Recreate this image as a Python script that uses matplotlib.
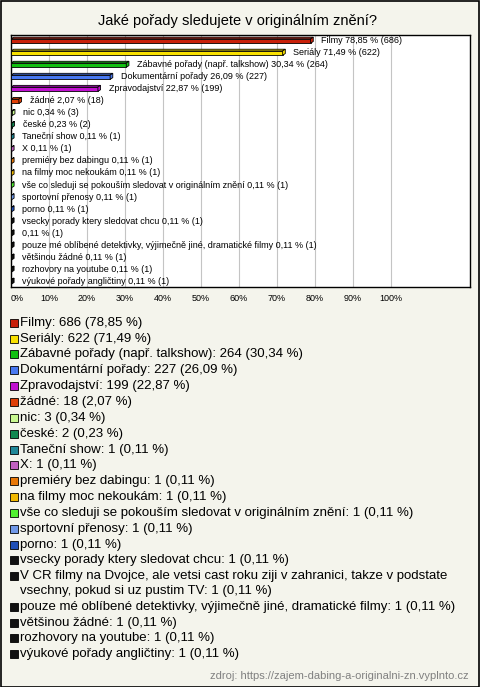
import matplotlib.pyplot as plt
from matplotlib.patches import Polygon, Rectangle

plt.rcParams["font.family"] = ["Liberation Sans", "DejaVu Sans"]

title = "Jaké pořady sledujete v originálním znění?"
source = "zdroj: https://zajem-dabing-a-originalni-zn.vyplnto.cz"

categories = [
    "Filmy",
    "Seriály",
    "Zábavné pořady (např. talkshow)",
    "Dokumentární pořady",
    "Zpravodajství",
    "žádné",
    "nic",
    "české",
    "Taneční show",
    "X",
    "premiéry bez dabingu",
    "na filmy moc nekoukám",
    "vše co sleduji se pokouším sledovat v originálním znění",
    "sportovní přenosy",
    "porno",
    "vsecky porady ktery sledovat chcu",
    "V CR filmy na Dvojce, ale vetsi cast roku ziji v zahranici, takze v podstate\nvsechny, pokud si uz pustim TV",
    "pouze mé oblíbené detektivky, výjimečně jiné, dramatické filmy",
    "většinou žádné",
    "rozhovory na youtube",
    "výukové pořady angličtiny",
]
counts = [686, 622, 264, 227, 199, 18, 3, 2, 1, 1, 1, 1, 1, 1, 1, 1, 1, 1, 1, 1, 1]
percents = [78.85, 71.49, 30.34, 26.09, 22.87, 2.07, 0.34, 0.23, 0.11, 0.11, 0.11,
            0.11, 0.11, 0.11, 0.11, 0.11, 0.11, 0.11, 0.11, 0.11, 0.11]
colors = ["#c8200a", "#f8e000", "#10c010", "#4878f0", "#c010d0", "#e04008",
          "#c8f890", "#108850", "#208898", "#c060c0", "#e87808", "#f0b800",
          "#50f030", "#7098e8", "#2050b8", "#111111", "#111111", "#111111",
          "#111111", "#111111", "#111111"]

W, H = 480, 687
bg = "#f4f4ec"


def fy(px):
    return 1 - px / H


def fmt(p):
    return f"{p:.2f}".replace(".", ",")


fig = plt.figure(figsize=(W / 100, H / 100), dpi=100, facecolor=bg)
fig.patches.append(Rectangle((0.5 / W, 0.5 / H), 1 - 1.5 / W, 1 - 1.5 / H,
                             transform=fig.transFigure, fill=False,
                             edgecolor="black", lw=1.2))

fig.text(0.494, fy(20.5), title, ha="center", va="center", fontsize=10.5)

ax = fig.add_axes([11 / W, fy(287), 459 / W, 252 / H])
ax.set_facecolor("white")
n = len(categories)
ax.set_xlim(0, 120.8)
ax.set_ylim(n - 1 + 0.415, -0.5)
ax.set_xticks(range(0, 101, 10))
ax.set_xticklabels([f"{t}%" for t in range(0, 101, 10)])
ax.tick_params(axis="x", length=0, pad=5, labelsize=6.5)
ax.set_yticks([])
ax.grid(axis="x", color="#c4c4c4", lw=0.8)
ax.set_axisbelow(True)
for s in ax.spines.values():
    s.set_linewidth(1.0)
ax.get_xticklabels()[0].set_horizontalalignment("left")

h = 0.36
dx = 0.7
dy = 0.14
ys = list(range(n))
ax.barh(ys, percents, height=h, color=colors, edgecolor="black", lw=0.6, zorder=3)
for y, v, c, name, cnt in zip(ys, percents, colors, categories, counts):
    top = y - h / 2
    bot = y + h / 2
    ax.add_patch(Polygon([(0, top), (v, top), (v + dx, top - dy), (dx, top - dy)],
                         closed=True, facecolor=c, edgecolor="black", lw=0.6, zorder=3))
    ax.add_patch(Polygon([(v, top), (v + dx, top - dy), (v + dx, bot - dy), (v, bot)],
                         closed=True, facecolor=c, edgecolor="black", lw=0.6, zorder=3))
    label = "" if "\n" in name else name + " "
    ax.text(v + 2.8, y - 0.05, f"{label}{fmt(v)} % ({cnt})", ha="left", va="center",
            fontsize=6.5, zorder=4)

# legend
ypos = 322.7
step = 15.85
line_gap = 14.5
for name, cnt, v, c in zip(categories, counts, percents, colors):
    lines = f"{name}: {cnt} ({fmt(v)} %)".split("\n")
    fig.patches.append(Rectangle((10 / W, fy(ypos + 4)), 8 / W, 8 / H,
                                 transform=fig.transFigure, facecolor=c,
                                 edgecolor="black", lw=0.6))
    for i, ln in enumerate(lines):
        fig.text(20 / W, fy(ypos + i * line_gap), ln, ha="left", va="center",
                 fontsize=9.5)
    ypos += step + line_gap * (len(lines) - 1)

fig.text(469 / W, fy(676), source, ha="right", va="center", fontsize=8,
         color="#808080")

fig.savefig("out.png", dpi=100, facecolor=bg)
